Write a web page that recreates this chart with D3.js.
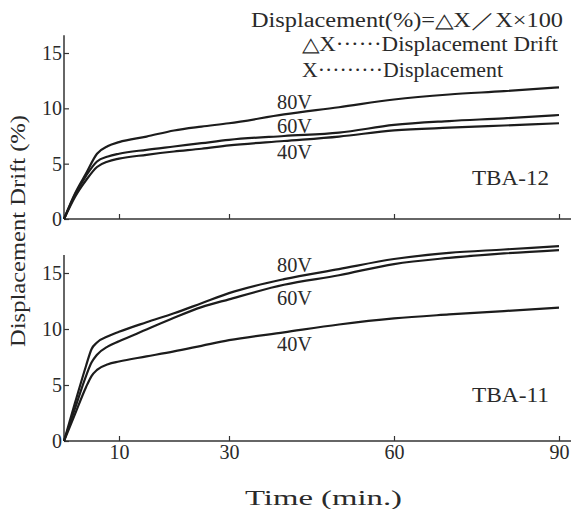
<!DOCTYPE html>
<html>
<head>
<meta charset="utf-8">
<script src="https://cdn.jsdelivr.net/npm/d3@7"></script>
<style>
  body { margin: 0; background: #fff; }
  svg text { font-family: "Liberation Serif", "Times New Roman", Tinos, Times, serif; fill: #2a2a2a; }
</style>
</head>
<body>
<div id="chart"></div>
<script>
// time axis (min.)
var minutesTop = [0, 2, 4, 6, 8, 10, 15, 20, 25, 30, 40, 50, 60, 70, 80, 90];
var minutesBottom = [0, 2, 4, 5, 6, 8, 10, 15, 20, 25, 30, 40, 50, 60, 70, 80, 90];

// TBA-12 displacement drift (%)
var tba12_80V = [0, 2.3, 4.1, 5.9, 6.6, 6.95, 7.45, 8.0, 8.35, 8.65, 9.45, 10.1, 10.8, 11.25, 11.55, 11.9];
var tba12_60V = [0, 2.2, 3.9, 5.2, 5.65, 5.9, 6.25, 6.55, 6.85, 7.15, 7.5, 7.8, 8.5, 8.85, 9.1, 9.4];
var tba12_40V = [0, 2.0, 3.5, 4.7, 5.2, 5.45, 5.8, 6.1, 6.35, 6.65, 7.05, 7.45, 8.0, 8.25, 8.45, 8.65];

// TBA-11 displacement drift (%)
var tba11_80V = [0, 3.4, 6.7, 8.2, 8.8, 9.35, 9.75, 10.6, 11.4, 12.3, 13.2, 14.45, 15.35, 16.25, 16.8, 17.1, 17.4];
var tba11_60V = [0, 2.9, 5.8, 7.0, 7.7, 8.45, 8.9, 9.95, 11.0, 11.95, 12.65, 13.95, 14.8, 15.8, 16.35, 16.75, 17.05];
var tba11_40V = [0, 2.4, 4.8, 5.8, 6.35, 6.85, 7.1, 7.55, 8.0, 8.5, 9.0, 9.7, 10.4, 10.95, 11.3, 11.6, 11.9];

var seriesNames = ["80V", "60V", "40V"];
var xTicks = [10, 30, 60, 90];
var yTicks = [0, 5, 10, 15];

var width = 574, height = 509;

var svg = d3.select("#chart").append("svg")
    .attr("width", width)
    .attr("height", height);

var x = d3.scaleLinear().domain([0, 90]).range([64, 559]);

var panels = [
    { name: "TBA-12", t: minutesTop, series: [tba12_80V, tba12_60V, tba12_40V],
      y: d3.scaleLinear().domain([0, 15]).range([219, 53]), showX: false,
      labelY: [109, 133, 159], nameY: 185 },
    { name: "TBA-11", t: minutesBottom, series: [tba11_80V, tba11_60V, tba11_40V],
      y: d3.scaleLinear().domain([0, 15]).range([441, 273]), showX: true,
      labelY: [272, 305, 351], nameY: 402 }
];

panels.forEach(function (p) {
    var g = svg.append("g");

    // y axis, ticks pointing inward
    var yAxis = g.append("g")
        .attr("transform", "translate(" + x(0) + ",0)")
        .call(d3.axisLeft(p.y).tickValues(yTicks).tickSize(-5).tickSizeOuter(0).tickPadding(2));
    yAxis.select(".domain").remove();
    yAxis.selectAll("line").attr("stroke", "#333").attr("stroke-width", 1.2);
    yAxis.selectAll("text").style("font-size", "20px").attr("fill", "#2a2a2a");

    g.append("line")
        .attr("x1", x(0)).attr("x2", x(0))
        .attr("y1", p.y(0)).attr("y2", p.y(16.6))
        .attr("stroke", "#333").attr("stroke-width", 1.5);

    // x axis, ticks pointing up
    var xAxis = g.append("g")
        .attr("transform", "translate(0," + p.y(0) + ")")
        .call(d3.axisBottom(x).tickValues(xTicks).tickSize(-5).tickSizeOuter(0).tickPadding(4)
            .tickFormat(p.showX ? d3.format("d") : function () { return ""; }));
    xAxis.select(".domain").remove();
    xAxis.selectAll("line").attr("stroke", "#333").attr("stroke-width", 1.2);
    xAxis.selectAll("text").style("font-size", "20px").attr("fill", "#2a2a2a");

    g.append("line")
        .attr("x1", x(0)).attr("x2", 571)
        .attr("y1", p.y(0)).attr("y2", p.y(0))
        .attr("stroke", "#333").attr("stroke-width", 1.5);

    var line = d3.line()
        .x(function (d, i) { return x(p.t[i]); })
        .y(function (d) { return p.y(d); })
        .curve(d3.curveMonotoneX);

    g.selectAll(".curve")
        .data(p.series)
        .enter()
        .append("path")
        .attr("class", "curve")
        .attr("d", line)
        .attr("fill", "none")
        .attr("stroke", "#1c1c1c")
        .attr("stroke-width", 2.2);

    g.selectAll(".vlabel")
        .data(seriesNames)
        .enter()
        .append("text")
        .attr("class", "vlabel")
        .attr("x", 277)
        .attr("y", function (d, i) { return p.labelY[i]; })
        .attr("textLength", 35)
        .attr("lengthAdjust", "spacingAndGlyphs")
        .style("font-size", "21px")
        .text(function (d) { return d; });

    g.append("text")
        .attr("x", 472)
        .attr("y", p.nameY)
        .attr("textLength", 77)
        .attr("lengthAdjust", "spacingAndGlyphs")
        .style("font-size", "21px")
        .text(p.name);
});

// formula notes
var notes = [
    { text: "Displacement(%)=△X／X×100", x: 251, y: 27, len: 312 },
    { text: "△X······Displacement Drift", x: 302, y: 51, len: 256 },
    { text: "X·········Displacement", x: 302, y: 77, len: 201 }
];
svg.selectAll(".note")
    .data(notes)
    .enter()
    .append("text")
    .attr("class", "note")
    .attr("x", function (d) { return d.x; })
    .attr("y", function (d) { return d.y; })
    .attr("textLength", function (d) { return d.len; })
    .attr("lengthAdjust", "spacingAndGlyphs")
    .style("font-size", "20px")
    .text(function (d) { return d.text; });

// axis titles
svg.append("text")
    .attr("transform", "translate(25,231) rotate(-90)")
    .attr("text-anchor", "middle")
    .attr("textLength", 232)
    .attr("lengthAdjust", "spacingAndGlyphs")
    .style("font-size", "20px")
    .text("Displacement Drift (%)");

svg.append("text")
    .attr("x", 245)
    .attr("y", 505)
    .attr("textLength", 157)
    .attr("lengthAdjust", "spacingAndGlyphs")
    .style("font-size", "21px")
    .text("Time (min.)");
</script>
</body>
</html>
